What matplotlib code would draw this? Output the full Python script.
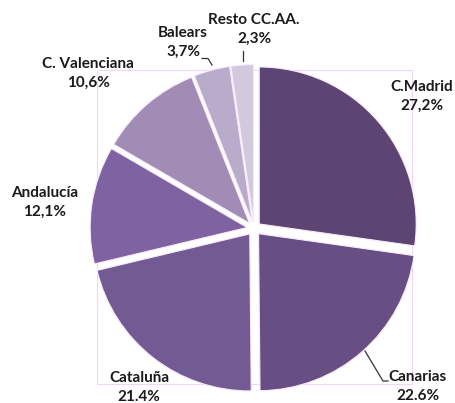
import matplotlib
matplotlib.use("Agg")
import matplotlib.pyplot as plt
from matplotlib.patches import Rectangle

# data
regions = ["C.Madrid", "Canarias", "Cataluña", "Andalucía", "C. Valenciana", "Balears", "Resto CC.AA."]
shares = [27.2, 22.6, 21.4, 12.1, 10.6, 3.7, 2.3]
share_labels = ["27,2%", "22.6%", "21.4%", "12,1%", "10,6%", "3,7%", "2,3%"]

colors = ["#5c4573", "#674f85", "#725a93", "#7f62a1", "#a08cb5", "#b9acca", "#d2c9dd"]

W, H = 456, 403
cx, cy, R = 254, 228.5, 157  # pie centre / radius in pixels

plt.rcParams['font.family'] = ['Lato', 'DejaVu Sans']
fig = plt.figure(figsize=(W / 100, H / 100), dpi=100)
ax = fig.add_axes([0, 0, 1, 1])


def px(x, y):
    # pixel (from top-left) -> data coords
    return (x - cx) / R, (cy - y) / R


wedges, _ = ax.pie(shares, colors=colors, startangle=90, counterclock=False,
                   radius=1.0, explode=[0.044] * len(shares),
                   wedgeprops=dict(edgecolor="#fbe9fb", linewidth=0.8))

ax.set_xlim(-cx / R, (W - cx) / R)
ax.set_ylim((cy - H) / R, cy / R)
ax.set_aspect('equal')
ax.axis('off')

# plot area frame
x0, y0 = px(97, 384)
x1, y1 = px(412, 70)
ax.add_patch(Rectangle((x0, y0), x1 - x0, y1 - y0, fill=False,
                       edgecolor="#f3d6f3", lw=0.8, zorder=0))

# label positions (pixel centres of the name line)
label_pos = [(422, 86), (418, 376), (139, 377), (45, 192), (88, 63), (183, 32), (254, 19)]
for name, pct, (lx, ly) in zip(regions, share_labels, label_pos):
    tx, ty = px(lx, ly + 10.5)
    ax.text(tx, ty, name + "\n" + pct, ha='center', va='center', fontsize=11,
            fontweight='bold', color="#1a1a1a", linespacing=1.4)

# leader lines
leaders = [
    [(365, 351), (383, 381), (388, 381)],
    [(202, 58.5), (208, 58.5), (212, 65)],
    [(243, 51), (243, 61)],
]
for pts in leaders:
    xs, ys = zip(*[px(x, y) for x, y in pts])
    ax.plot(xs, ys, color="#333333", lw=0.9)

fig.savefig("out.png", dpi=100)
